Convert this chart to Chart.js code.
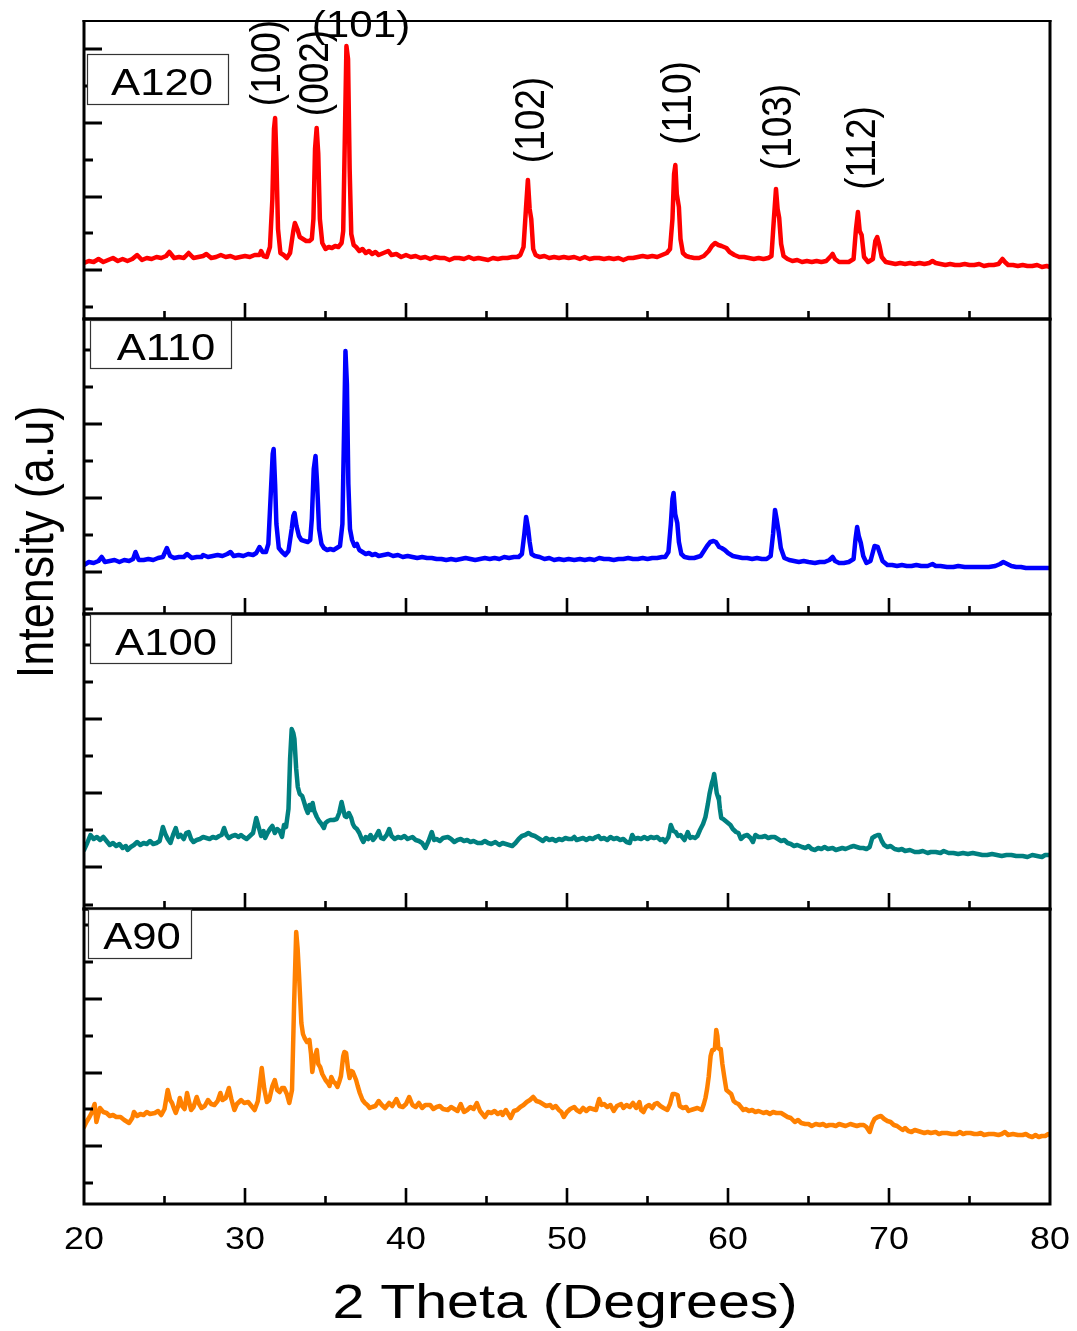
<!DOCTYPE html>
<html><head><meta charset="utf-8">
<script src="https://cdn.jsdelivr.net/npm/chart.js@4.4.0/dist/chart.umd.min.js"></script>
<style>
html,body{margin:0;padding:0;background:#fff;}
#wrap{position:relative;width:1077px;height:1331px;overflow:hidden;background:#fff;}
canvas{position:absolute;left:0;}
</style></head><body><div id="wrap">
<canvas id="c0" width="1077" height="330"></canvas>
<canvas id="c1" width="1077" height="391"></canvas>
<canvas id="c2" width="1077" height="315"></canvas>
<canvas id="c3" width="1077" height="432"></canvas>
</div>
<script>
// ---------------- DATA (2θ in degrees, intensity in a.u.) ----------------
const xTickLabels = [20, 30, 40, 50, 60, 70, 80];
const xMinorTicks = [25, 35, 45, 55, 65, 75];
const sampleNames = ['A120', 'A110', 'A100', 'A90'];
const millerLabels = ['(100)', '(002)', '(101)', '(102)', '(110)', '(103)', '(112)'];

const a120 = [[20.0,56],[20.3,58],[20.6,57],[20.9,60],[21.2,57],[21.5,59],[21.8,61],[22.1,58],[22.4,60],[22.7,58],[23.0,60],[23.3,64],[23.6,59],[23.9,61],[24.2,60],[24.5,62],[24.8,61],[25.1,63],[25.3,67],[25.6,61],[25.9,62],[26.2,61],[26.5,66],[26.8,61],[27.1,62],[27.4,63],[27.6,65],[27.9,61],[28.2,62],[28.5,64],[28.8,62],[29.1,63],[29.4,61],[29.7,62],[30.0,63],[30.3,62],[30.6,64],[30.9,64],[31.0,68],[31.15,63],[31.35,62],[31.55,72],[31.7,120],[31.8,190],[31.87,201],[31.95,160],[32.05,90],[32.2,66],[32.4,64],[32.6,61],[32.8,66],[33.0,88],[33.1,96],[33.25,90],[33.4,82],[33.6,80],[33.8,78],[34.0,78],[34.15,80],[34.25,100],[34.35,170],[34.45,191],[34.55,165],[34.65,100],[34.8,76],[35.0,70],[35.2,72],[35.4,71],[35.6,73],[35.8,72],[36.0,76],[36.1,88],[36.2,180],[36.3,273],[36.4,260],[36.5,150],[36.6,85],[36.75,74],[36.9,72],[37.1,68],[37.3,70],[37.5,66],[37.7,68],[37.9,65],[38.1,67],[38.3,64],[38.6,66],[38.9,68],[39.1,64],[39.4,65],[39.7,62],[40.0,64],[40.3,62],[40.6,63],[40.9,61],[41.2,62],[41.5,60],[41.8,62],[42.1,61],[42.4,61],[42.7,59],[43.0,61],[43.3,61],[43.6,60],[43.9,62],[44.2,60],[44.5,61],[44.8,60],[45.1,59],[45.4,61],[45.7,60],[46.0,61],[46.3,61],[46.6,62],[46.9,62],[47.1,64],[47.3,72],[47.45,110],[47.57,139],[47.68,110],[47.78,100],[47.9,70],[48.05,64],[48.3,62],[48.6,63],[48.9,61],[49.2,62],[49.5,61],[49.8,62],[50.1,61],[50.45,62],[50.8,60],[51.1,62],[51.4,60],[51.7,61],[52.0,61],[52.3,60],[52.6,61],[52.9,60],[53.2,61],[53.5,59],[53.8,61],[54.1,61],[54.4,62],[54.7,63],[55.0,62],[55.3,63],[55.6,62],[55.9,64],[56.2,66],[56.4,70],[56.55,100],[56.65,145],[56.73,154],[56.82,125],[56.95,112],[57.05,80],[57.2,66],[57.4,63],[57.6,62],[57.9,61],[58.2,61],[58.5,63],[58.8,68],[59.0,73],[59.2,76],[59.4,74],[59.6,73],[59.9,71],[60.1,67],[60.4,64],[60.7,62],[61.0,62],[61.3,61],[61.6,60],[61.9,61],[62.2,60],[62.5,61],[62.7,63],[62.85,100],[62.98,130],[63.08,110],[63.18,101],[63.3,75],[63.45,63],[63.7,60],[64.0,58],[64.3,59],[64.6,57],[64.9,58],[65.2,57],[65.5,58],[65.8,57],[66.1,58],[66.4,63],[66.5,65],[66.65,60],[66.9,57],[67.2,57],[67.5,57],[67.8,60],[67.95,90],[68.07,107],[68.18,88],[68.3,84],[68.45,62],[68.7,57],[69.0,60],[69.15,78],[69.27,82],[69.4,74],[69.55,62],[69.8,57],[70.1,56],[70.4,55],[70.7,56],[71.0,55],[71.3,56],[71.6,55],[71.9,56],[72.2,55],[72.5,56],[72.7,58],[72.9,56],[73.2,55],[73.5,54],[73.8,55],[74.1,54],[74.4,54],[74.7,55],[75.0,54],[75.3,54],[75.6,55],[75.9,53],[76.2,54],[76.5,54],[76.8,55],[77.05,60],[77.2,57],[77.4,54],[77.7,54],[78.0,53],[78.3,54],[78.6,53],[78.9,53],[79.2,54],[79.5,52],[79.8,53],[80.0,52]];

const a110 = [[20.0,49],[20.3,52],[20.6,51],[20.9,53],[21.1,57],[21.3,52],[21.6,53],[21.9,54],[22.2,52],[22.5,54],[22.8,53],[23.05,55],[23.2,62],[23.4,54],[23.7,54],[24.0,55],[24.3,54],[24.6,56],[24.9,57],[25.15,66],[25.35,58],[25.6,56],[25.9,57],[26.2,57],[26.4,60],[26.7,56],[27.0,57],[27.3,57],[27.4,59],[27.7,57],[28.0,58],[28.3,59],[28.6,58],[28.9,60],[29.1,62],[29.3,58],[29.6,59],[29.9,58],[30.2,60],[30.5,59],[30.7,61],[30.9,67],[31.1,62],[31.3,62],[31.45,70],[31.6,120],[31.72,160],[31.78,165],[31.87,130],[31.95,90],[32.1,66],[32.3,62],[32.5,59],[32.7,63],[32.9,85],[33.0,98],[33.08,101],[33.2,88],[33.35,78],[33.5,74],[33.7,73],[33.9,72],[34.05,74],[34.15,95],[34.27,145],[34.38,158],[34.48,130],[34.6,85],[34.75,70],[34.9,66],[35.1,64],[35.3,65],[35.5,64],[35.7,66],[35.9,68],[36.05,90],[36.15,180],[36.24,263],[36.33,230],[36.42,130],[36.52,85],[36.65,74],[36.8,68],[36.95,70],[37.1,64],[37.3,62],[37.5,60],[37.7,61],[37.9,59],[38.1,60],[38.3,58],[38.6,59],[38.9,60],[39.2,58],[39.5,59],[39.8,57],[40.1,58],[40.4,57],[40.7,56],[41.0,57],[41.3,56],[41.6,56],[41.9,55],[42.2,55],[42.5,54],[42.8,55],[43.1,54],[43.4,55],[43.7,56],[44.0,55],[44.3,54],[44.6,55],[44.9,56],[45.2,55],[45.5,56],[45.8,55],[46.1,57],[46.4,56],[46.7,57],[47.0,57],[47.2,60],[47.35,80],[47.46,97],[47.58,86],[47.68,72],[47.8,60],[48.0,58],[48.3,57],[48.6,55],[48.9,56],[49.2,54],[49.5,55],[49.8,54],[50.1,55],[50.45,54],[50.8,55],[51.1,54],[51.4,55],[51.7,54],[52.0,56],[52.3,55],[52.6,55],[52.9,54],[53.2,55],[53.5,55],[53.8,56],[54.1,55],[54.4,55],[54.7,56],[55.0,55],[55.3,56],[55.6,56],[55.9,57],[56.1,57],[56.3,62],[56.45,90],[56.55,115],[56.62,121],[56.72,100],[56.85,91],[56.95,72],[57.1,60],[57.3,57],[57.6,56],[57.9,56],[58.1,57],[58.3,58],[58.5,63],[58.7,68],[58.9,72],[59.1,73],[59.25,72],[59.45,67],[59.6,66],[59.8,64],[60.0,61],[60.3,58],[60.6,57],[60.9,56],[61.2,56],[61.5,55],[61.8,56],[62.1,55],[62.4,55],[62.65,58],[62.8,80],[62.92,104],[63.02,95],[63.15,82],[63.28,66],[63.5,56],[63.8,54],[64.1,53],[64.4,52],[64.7,53],[65.0,52],[65.4,51],[65.7,52],[66.0,52],[66.3,54],[66.5,57],[66.65,53],[66.9,51],[67.2,51],[67.5,52],[67.8,55],[67.92,75],[68.02,87],[68.12,78],[68.25,71],[68.4,58],[68.6,51],[68.85,53],[69.0,62],[69.1,68],[69.3,67],[69.45,60],[69.6,53],[69.9,49],[70.2,49],[70.5,48],[70.8,49],[71.1,48],[71.4,48],[71.7,49],[72.0,48],[72.4,48],[72.7,50],[72.9,48],[73.2,48],[73.6,47],[74.0,47],[74.3,48],[74.7,47],[75.0,47],[75.4,47],[75.8,47],[76.2,47],[76.6,48],[76.9,50],[77.1,52],[77.35,50],[77.6,48],[77.9,47],[78.2,47],[78.5,46],[78.8,46],[79.1,46],[79.4,46],[79.7,46],[80.0,46]];

const a100 = [[20.0,59],[20.2,66],[20.4,74],[20.6,70],[20.8,72],[21.0,69],[21.2,72],[21.4,68],[21.6,64],[21.8,66],[22.0,63],[22.2,65],[22.4,61],[22.6,63],[22.7,59],[22.9,62],[23.1,64],[23.3,67],[23.5,64],[23.7,66],[23.9,65],[24.1,68],[24.3,65],[24.5,66],[24.7,68],[24.9,82],[25.05,75],[25.2,70],[25.37,66],[25.55,75],[25.7,81],[25.85,72],[26.0,74],[26.2,70],[26.35,76],[26.5,77],[26.65,70],[26.8,67],[27.0,69],[27.2,70],[27.4,72],[27.6,71],[27.8,70],[28.0,72],[28.2,71],[28.4,73],[28.55,74],[28.7,81],[28.85,74],[29.0,71],[29.2,73],[29.4,74],[29.6,72],[29.75,74],[29.9,72],[30.1,70],[30.3,73],[30.5,76],[30.7,91],[30.85,82],[31.0,73],[31.15,78],[31.25,71],[31.4,76],[31.55,80],[31.7,83],[31.85,76],[32.0,80],[32.15,78],[32.3,72],[32.42,84],[32.55,82],[32.7,100],[32.8,150],[32.9,180],[33.0,176],[33.07,170],[33.18,140],[33.28,122],[33.4,115],[33.55,113],[33.65,108],[33.8,100],[33.9,96],[34.0,104],[34.1,99],[34.2,106],[34.3,98],[34.46,92],[34.6,88],[34.75,85],[34.9,81],[35.0,86],[35.15,88],[35.3,89],[35.5,89],[35.7,90],[35.85,96],[36.0,107],[36.1,100],[36.2,93],[36.3,92],[36.45,96],[36.6,91],[36.7,85],[36.8,82],[36.95,80],[37.1,76],[37.25,70],[37.35,67],[37.5,72],[37.65,70],[37.8,74],[37.95,69],[38.1,72],[38.3,78],[38.45,71],[38.6,70],[38.8,74],[38.96,80],[39.1,73],[39.3,70],[39.5,72],[39.7,71],[39.9,73],[40.1,70],[40.4,72],[40.6,69],[40.8,68],[41.0,66],[41.2,61],[41.4,68],[41.6,77],[41.75,69],[41.9,70],[42.1,68],[42.3,71],[42.6,72],[42.8,70],[43.0,67],[43.2,69],[43.4,70],[43.6,68],[43.8,69],[44.0,67],[44.2,68],[44.45,66],[44.7,66],[44.9,68],[45.1,66],[45.3,65],[45.55,67],[45.8,64],[46.0,66],[46.2,65],[46.4,64],[46.6,63],[46.8,66],[47.0,70],[47.2,73],[47.4,74],[47.6,76],[47.8,74],[48.0,73],[48.3,70],[48.5,68],[48.7,71],[48.9,69],[49.1,70],[49.3,68],[49.5,70],[49.7,69],[49.9,71],[50.1,70],[50.3,70],[50.45,72],[50.6,69],[50.8,70],[51.0,71],[51.2,69],[51.4,71],[51.6,70],[51.8,72],[51.96,73],[52.1,70],[52.3,71],[52.5,69],[52.7,72],[52.9,70],[53.1,71],[53.3,69],[53.5,70],[53.7,67],[53.9,66],[54.05,74],[54.2,70],[54.4,71],[54.6,70],[54.8,72],[55.0,70],[55.2,72],[55.4,71],[55.6,72],[55.8,69],[55.95,70],[56.1,67],[56.3,72],[56.45,84],[56.6,78],[56.75,77],[56.9,73],[57.05,74],[57.2,71],[57.3,69],[57.5,77],[57.65,71],[57.8,72],[57.95,71],[58.1,73],[58.26,79],[58.45,85],[58.6,92],[58.75,105],[58.85,115],[59.0,126],[59.08,130],[59.14,135],[59.22,126],[59.3,116],[59.38,112],[59.44,109],[59.5,100],[59.58,91],[59.7,90],[59.85,88],[60.0,86],[60.15,84],[60.3,80],[60.5,77],[60.65,76],[60.8,70],[61.0,73],[61.2,74],[61.4,71],[61.55,67],[61.7,74],[61.9,72],[62.1,72],[62.3,73],[62.5,71],[62.7,72],[62.9,72],[63.1,70],[63.3,68],[63.5,69],[63.7,66],[63.9,65],[64.1,63],[64.3,64],[64.6,62],[64.8,61],[65.0,63],[65.2,60],[65.4,59],[65.6,61],[65.8,60],[66.0,62],[66.2,60],[66.5,61],[66.7,59],[66.9,60],[67.1,61],[67.3,60],[67.6,62],[67.8,63],[68.0,62],[68.2,61],[68.4,61],[68.6,60],[68.8,62],[68.96,71],[69.15,73],[69.3,74],[69.4,74],[69.55,68],[69.7,64],[69.9,62],[70.1,63],[70.35,60],[70.6,59],[70.8,60],[71.0,58],[71.3,59],[71.6,57],[71.85,57],[72.1,58],[72.4,56],[72.6,57],[72.9,57],[73.2,56],[73.4,58],[73.7,56],[74.0,56],[74.3,55],[74.6,56],[74.9,55],[75.2,56],[75.5,55],[75.8,54],[76.1,54],[76.4,55],[76.7,54],[77.0,53],[77.3,54],[77.6,54],[77.9,53],[78.3,53],[78.6,52],[78.9,54],[79.2,53],[79.5,52],[79.7,54],[80.0,54]];

const a90 = [[20.0,77],[20.15,82],[20.34,87],[20.5,92],[20.66,100],[20.77,82],[20.9,90],[20.99,96],[21.2,92],[21.4,91],[21.6,88],[21.8,89],[22.0,87],[22.27,87],[22.5,84],[22.8,81],[23.0,86],[23.1,92],[23.3,88],[23.5,90],[23.7,89],[23.9,92],[24.1,90],[24.4,91],[24.6,93],[24.8,89],[25.0,95],[25.2,114],[25.35,104],[25.47,101],[25.6,95],[25.7,91],[25.85,98],[25.95,106],[26.1,98],[26.25,95],[26.4,111],[26.5,104],[26.65,94],[26.8,97],[27.0,107],[27.15,100],[27.3,96],[27.5,98],[27.7,104],[27.9,100],[28.1,99],[28.3,103],[28.47,111],[28.6,104],[28.8,106],[29.0,116],[29.15,105],[29.34,94],[29.5,100],[29.76,104],[29.95,101],[30.2,102],[30.4,98],[30.6,94],[30.8,103],[31.04,136],[31.2,115],[31.36,102],[31.5,104],[31.7,118],[31.85,124],[32.0,114],[32.15,112],[32.3,116],[32.43,116],[32.6,110],[32.75,101],[32.92,114],[33.05,200],[33.18,272],[33.27,255],[33.35,231],[33.5,181],[33.6,170],[33.7,166],[33.85,162],[34.0,164],[34.1,150],[34.18,132],[34.3,145],[34.46,154],[34.55,140],[34.67,137],[34.8,130],[35.0,124],[35.15,121],[35.25,118],[35.36,127],[35.5,122],[35.6,121],[35.74,117],[35.85,122],[35.96,128],[36.1,148],[36.17,152],[36.28,151],[36.4,135],[36.5,126],[36.6,133],[36.7,132],[36.9,124],[37.0,118],[37.13,111],[37.3,104],[37.45,101],[37.6,99],[37.75,96],[37.9,97],[38.1,98],[38.3,103],[38.5,99],[38.7,96],[38.95,101],[39.15,98],[39.4,105],[39.6,98],[39.8,97],[40.0,100],[40.2,107],[40.4,99],[40.6,97],[40.8,101],[41.0,96],[41.2,99],[41.5,99],[41.7,95],[41.9,97],[42.1,98],[42.3,95],[42.6,94],[42.8,97],[43.0,95],[43.2,93],[43.4,100],[43.6,92],[43.8,94],[44.0,97],[44.2,95],[44.4,101],[44.6,93],[44.9,87],[45.1,92],[45.3,91],[45.5,93],[45.7,90],[45.9,92],[46.0,89],[46.2,94],[46.35,90],[46.5,86],[46.7,93],[46.9,94],[47.1,97],[47.3,99],[47.5,102],[47.7,104],[47.9,107],[48.1,103],[48.3,102],[48.5,100],[48.7,98],[48.96,99],[49.1,96],[49.3,98],[49.5,94],[49.65,92],[49.8,87],[50.0,92],[50.2,95],[50.45,97],[50.6,94],[50.8,92],[51.0,96],[51.2,93],[51.4,96],[51.6,95],[51.8,94],[52.0,105],[52.15,99],[52.3,100],[52.5,97],[52.7,99],[52.9,93],[53.1,98],[53.36,100],[53.5,96],[53.7,99],[53.9,97],[54.1,101],[54.3,96],[54.5,102],[54.6,94],[54.75,92],[54.9,97],[55.1,99],[55.3,96],[55.45,100],[55.6,101],[55.8,98],[56.0,96],[56.23,94],[56.4,100],[56.56,110],[56.7,110],[56.87,109],[57.0,98],[57.2,96],[57.4,97],[57.55,93],[57.7,94],[57.9,95],[58.1,96],[58.37,94],[58.5,100],[58.6,106],[58.7,115],[58.8,127],[58.92,148],[59.02,154],[59.12,154],[59.19,156],[59.27,174],[59.34,168],[59.4,156],[59.47,155],[59.55,155],[59.65,140],[59.77,127],[59.9,114],[60.05,112],[60.2,110],[60.35,103],[60.5,101],[60.65,100],[60.8,97],[60.95,94],[61.1,95],[61.3,93],[61.5,94],[61.7,92],[61.9,93],[62.2,91],[62.4,92],[62.6,90],[62.8,92],[63.0,91],[63.3,91],[63.5,89],[63.7,87],[63.9,86],[64.15,82],[64.35,84],[64.55,81],[64.8,80],[65.0,80],[65.2,78],[65.45,80],[65.7,79],[65.9,80],[66.1,78],[66.3,79],[66.5,79],[66.7,78],[66.9,80],[67.1,79],[67.3,78],[67.6,80],[67.8,79],[68.0,78],[68.2,79],[68.43,79],[68.6,77],[68.8,72],[68.95,80],[69.1,85],[69.3,87],[69.5,88],[69.7,85],[69.9,83],[70.1,82],[70.3,79],[70.5,78],[70.67,76],[70.85,74],[71.0,76],[71.2,73],[71.4,72],[71.6,74],[71.8,73],[72.0,72],[72.2,71],[72.4,72],[72.6,71],[72.9,72],[73.1,70],[73.3,71],[73.6,71],[73.9,70],[74.2,70],[74.4,72],[74.6,70],[74.8,71],[75.06,71],[75.3,70],[75.5,70],[75.7,71],[75.9,69],[76.2,70],[76.5,70],[76.8,69],[77.0,70],[77.2,72],[77.4,69],[77.7,70],[78.0,69],[78.3,69],[78.5,70],[78.7,68],[78.9,67],[79.1,69],[79.3,67],[79.5,68],[79.7,68],[79.9,70],[80.0,69]];

// y tick values (intensity a.u.) per panel
const yMajorTicks = [[49,122,196,270],[42,116,190,264],[42,116,190,264],[58,131,205,279]];
const yMinorTicks = [[12,86,159,233],[5,79,153,227],[4,79,153,227],[21,95,168,242]];
const yMax = [298, 295, 295, 295];

// ---------------- LAYOUT / STYLE ----------------
const FONT = '"Liberation Sans", Arial, Helvetica, sans-serif';
const colors = ['#ff0000', '#0000ff', '#008080', '#ff8000'];
const seriesList = [a120, a110, a100, a90];
const panelLayout = [
  {canvas:'c0', top:0,   padTop:21, padBottom:11,  box:[87,54,141,50],  txt:[162,95]},
  {canvas:'c1', top:309, padTop:10, padBottom:86,  box:[90,320,141,48], txt:[166,360]},
  {canvas:'c2', top:604, padTop:10, padBottom:10,  box:[90,614,141,49], txt:[166,655]},
  {canvas:'c3', top:899, padTop:10, padBottom:127, box:[88,909,103,49], txt:[142,949]}
];
// Miller-index annotations in panel 1: [text index, x, y, rotated]
const millerPlace = [[0,280,63,true],[1,328,73,true],[2,361,37,false],[3,544,120,true],[4,691,103,true],[5,791,127,true],[6,875,148,true]];

function drawText(ctx, s, x, y, size, sx, rotated, align) {
  ctx.save();
  ctx.translate(x, y);
  ctx.scale(sx, 1);
  if (rotated) ctx.rotate(-Math.PI / 2);
  ctx.font = size + 'px ' + FONT;
  ctx.fillStyle = '#000';
  ctx.textAlign = align || 'center';
  ctx.textBaseline = 'alphabetic';
  ctx.fillText(s, 0, 0);
  ctx.restore();
}

function makePlugin(i) {
  const L = panelLayout[i];
  return {
    id: 'frame' + i,
    afterDatasetsDraw(chart) {
      const ctx = chart.ctx;
      const xs = chart.scales.x, ys = chart.scales.y;
      const a = chart.chartArea;
      const l = a.left, r = a.right, t = a.top, b = a.bottom;
      ctx.save();
      ctx.strokeStyle = '#000';
      ctx.lineCap = 'butt';
      // frame
      ctx.lineWidth = 3;
      ctx.beginPath();
      ctx.moveTo(l, t - (i === 0 ? 1 : 1.5)); ctx.lineTo(l, b + 1.5);
      ctx.moveTo(l - 1.5, b); ctx.lineTo(r + 1.5, b);
      ctx.moveTo(r, t - 1); ctx.lineTo(r, b + 1.5);
      ctx.stroke();
      ctx.lineWidth = i === 0 ? 2.2 : 3;
      ctx.beginPath(); ctx.moveTo(l - 1.5, t); ctx.lineTo(r + 1.5, t); ctx.stroke();
      // x ticks (inward)
      ctx.lineWidth = 2.6;
      ctx.beginPath();
      xTickLabels.forEach(v => { if (v > 20 && v < 80) { const p = xs.getPixelForValue(v); ctx.moveTo(p, b); ctx.lineTo(p, b - 16); } });
      xMinorTicks.forEach(v => { const p = xs.getPixelForValue(v); ctx.moveTo(p, b); ctx.lineTo(p, b - 8); });
      ctx.stroke();
      // y ticks (inward)
      ctx.lineWidth = 3;
      ctx.beginPath();
      yMajorTicks[i].forEach(v => { const p = ys.getPixelForValue(v); ctx.moveTo(l, p); ctx.lineTo(l + 18, p); });
      yMinorTicks[i].forEach(v => { const p = ys.getPixelForValue(v); ctx.moveTo(l, p); ctx.lineTo(l + 9, p); });
      ctx.stroke();
      // sample label box
      const [bx, by, bw, bh] = L.box;
      const oy = L.top;
      ctx.fillStyle = '#fff';
      ctx.fillRect(bx, by - oy, bw, bh);
      ctx.lineWidth = 1.2;
      ctx.strokeStyle = '#333';
      ctx.strokeRect(bx + 0.5, by - oy + 0.5, bw, bh);
      ctx.restore();
      drawText(ctx, sampleNames[i], L.txt[0], L.txt[1] - oy, 37, 1.18, false);
      if (i === 0) {
        millerPlace.forEach(m => drawText(ctx, millerLabels[m[0]], m[1], m[2], m[3] ? 37 : 36, 1.17, m[3]));
      }
      if (i === 1) {
        drawText(ctx, 'Intensity (a.u)', 53, 542 - oy, 45, 1.17, true);
      }
      if (i === 3) {
        xTickLabels.forEach(v => drawText(ctx, String(v), xs.getPixelForValue(v), 1249 - oy, 32, 1.12, false));
        drawText(ctx, '2 Theta (Degrees)', 565, 1318 - oy, 49, 1.17, false);
      }
    }
  };
}

panelLayout.forEach((L, i) => {
  const cv = document.getElementById(L.canvas);
  cv.style.top = L.top + 'px';
  new Chart(cv, {
    type: 'line',
    data: { datasets: [{
      label: sampleNames[i],
      data: seriesList[i].map(p => ({ x: p[0], y: p[1] })),
      borderColor: colors[i], borderWidth: 4.5, pointRadius: 0, tension: 0, fill: false,
      borderJoinStyle: 'round', borderCapStyle: 'round'
    }] },
    options: {
      responsive: false, animation: false, events: [], devicePixelRatio: 1,
      layout: { padding: { left: 84, right: 27, top: L.padTop, bottom: L.padBottom } },
      plugins: { legend: { display: false }, tooltip: { enabled: false }, title: { display: false } },
      scales: {
        x: { type: 'linear', min: 20, max: 80, display: false },
        y: { type: 'linear', min: 0, max: yMax[i], display: false }
      }
    },
    plugins: [makePlugin(i)]
  });
});
</script>
</body></html>
